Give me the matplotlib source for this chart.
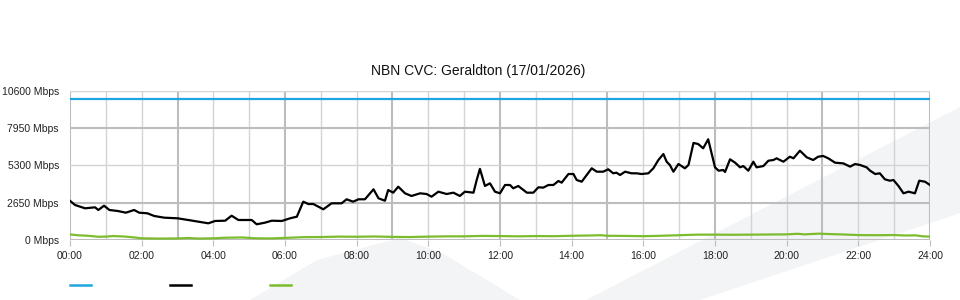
import matplotlib
matplotlib.use("Agg")
import matplotlib.pyplot as plt
from matplotlib.lines import Line2D
from matplotlib.patches import Polygon
import numpy as np

plt.rcParams['font.family'] = ['Liberation Sans', 'DejaVu Sans']

title = "NBN CVC: Geraldton (17/01/2026)"
y_ticks = [0, 2650, 5300, 7950, 10600]
y_tick_labels = ["0 Mbps", "2650 Mbps", "5300 Mbps", "7950 Mbps", "10600 Mbps"]
x_ticks = [0, 2, 4, 6, 8, 10, 12, 14, 16, 18, 20, 22, 24]
x_tick_labels = ["00:00", "02:00", "04:00", "06:00", "08:00", "10:00", "12:00",
                 "14:00", "16:00", "18:00", "20:00", "22:00", "24:00"]

capacity_hours = [0, 24]
capacity_mbps = [10000, 10000]

usage_hours = [0.00, 0.14, 0.42, 0.70, 0.79, 0.95, 1.10, 1.33, 1.56, 1.79, 1.93, 2.16,
               2.35, 2.63, 3.00, 3.30, 3.58, 3.86, 4.05, 4.33, 4.51, 4.70, 5.07, 5.21,
               5.44, 5.63, 5.91, 6.14, 6.33, 6.51, 6.65, 6.79, 6.93, 7.07, 7.30, 7.58,
               7.72, 7.90, 8.05, 8.23, 8.47, 8.61, 8.79, 8.88, 9.02, 9.16, 9.35, 9.53,
               9.77, 9.95, 10.09, 10.28, 10.51, 10.70, 10.88, 11.02, 11.26, 11.35, 11.44,
               11.58, 11.72, 11.86, 12.00, 12.14, 12.28, 12.37, 12.51, 12.75, 12.93, 13.07,
               13.21, 13.35, 13.49, 13.63, 13.72, 13.91, 14.05, 14.14, 14.28, 14.56, 14.70,
               14.88, 15.02, 15.16, 15.25, 15.35, 15.49, 15.67, 15.81, 15.95, 16.14, 16.28,
               16.42, 16.56, 16.65, 16.74, 16.84, 16.98, 17.16, 17.26, 17.40, 17.53, 17.67,
               17.81, 18.00, 18.10, 18.23, 18.28, 18.42, 18.56, 18.70, 18.79, 18.93, 19.07,
               19.16, 19.35, 19.49, 19.63, 19.72, 19.81, 19.91, 20.09, 20.19, 20.37, 20.56,
               20.74, 20.88, 21.02, 21.16, 21.35, 21.58, 21.77, 21.91, 22.05, 22.23, 22.33,
               22.47, 22.60, 22.74, 22.88, 22.98, 23.12, 23.26, 23.40, 23.58, 23.70, 23.86,
               24.00]
usage_mbps = [2780, 2485, 2250, 2320, 2130, 2435, 2130, 2060, 1940, 2130, 1940, 1895,
              1705, 1585, 1540, 1420, 1300, 1185, 1350, 1370, 1725, 1420, 1420, 1115,
              1230, 1370, 1350, 1540, 1655, 2720, 2555, 2555, 2365, 2180, 2605, 2605,
              2890, 2720, 2890, 2890, 3600, 2960, 2790, 3550, 3360, 3785, 3315, 3125,
              3315, 3265, 3075, 3430, 3265, 3360, 3125, 3430, 3360, 4260, 5050,
              3835, 4025, 3430, 3315, 3905, 3905, 3670, 3835, 3360, 3360, 3740,
              3720, 3905, 3905, 4190, 4070, 4685, 4685, 4260, 4140, 5090, 4850,
              4850, 5020, 4735, 4780, 4615, 4850, 4735, 4735, 4685, 4735, 5090,
              5680, 6105, 5560, 5325, 4850, 5395, 5090, 5325, 6890, 6815, 6510,
              7150, 5160, 4920, 4970, 4830, 5730, 5490, 5160, 5250, 4920, 5560,
              5160, 5250, 5630, 5680, 5800, 5680, 5560, 5915, 5800, 6340, 5870,
              5680, 5915, 5965, 5800, 5490, 5440, 5210, 5395, 5325, 5160, 4920,
              4685, 4735, 4310, 4210, 4260, 3835, 3315, 3430, 3315, 4210, 4140,
              3905]

upload_hours = [0.0, 0.2, 0.5, 0.8, 1.0, 1.2, 1.5, 1.8, 2.0, 2.5, 3.0, 3.3, 3.6, 4.0,
                4.3, 4.8, 5.2, 5.6, 6.0, 6.5, 7.0, 7.5, 8.0, 8.5, 9.0, 9.5, 10.0, 10.5,
                11.0, 11.5, 12.0, 12.5, 13.0, 13.5, 14.0, 14.5, 14.8, 15.0, 15.5, 16.0,
                16.5, 17.0, 17.5, 18.0, 18.5, 19.0, 19.5, 20.0, 20.3, 20.5, 20.9, 21.2,
                21.5, 22.0, 22.5, 23.0, 23.3, 23.6, 23.8, 24.0]
upload_mbps = [400, 340, 300, 230, 240, 280, 250, 180, 120, 100, 110, 140, 100, 120,
               160, 180, 120, 110, 150, 200, 210, 240, 230, 250, 220, 210, 240, 260,
               260, 290, 280, 260, 280, 270, 300, 320, 340, 300, 290, 270,
               300, 340, 380, 380, 370, 380, 390, 400, 440, 400, 450, 420,
               400, 350, 340, 350, 320, 330, 260, 240]

W, H = 960, 300
fig = plt.figure(figsize=(W / 100, H / 100), dpi=100)


def px(pts):
    return [(x / W, 1 - y / H) for x, y in pts]


# faint background watermark shapes
for shape in [
    [(250, 300), (317, 260), (400, 238), (440, 252), (520, 300)],
    [(586, 300), (960, 107), (960, 213), (700, 300)],
]:
    fig.patches.append(Polygon(px(shape), closed=True, transform=fig.transFigure,
                               facecolor="#f3f4f6", edgecolor="none", zorder=0))

ax = fig.add_axes([70 / W, 60 / H, 860 / W, 149.3 / H])
ax.set_zorder(2)
ax.set_facecolor("none")
ax.set_xlim(0, 24)
ax.set_ylim(0, 10600)

for s in ax.spines.values():
    s.set_visible(False)

for h in range(0, 25):
    dark = (h % 3 == 0)
    ax.axvline(h, color="#bdbdbd" if dark else "#d4d4d4", lw=1.5 if dark else 1.0, zorder=1)
for yv in y_ticks:
    dark = yv in (2650, 7950, 0)
    ax.axhline(yv, color="#bdbdbd" if dark else "#d4d4d4", lw=1.5 if dark else 1.0, zorder=1)

ax.plot(capacity_hours, capacity_mbps, color="#1fa6e0", lw=1.6, zorder=3)
ax.plot(usage_hours, usage_mbps, color="#000000", lw=1.6, zorder=4)
ax.plot(upload_hours, upload_mbps, color="#7dbb2f", lw=1.6, zorder=3)

ax.set_xticks(x_ticks)
ax.set_xticklabels(x_tick_labels, fontsize=7.5, color="#222222")
ax.set_yticks(y_ticks)
ax.set_yticklabels(y_tick_labels, fontsize=7.5, color="#222222")
ax.tick_params(axis="x", length=4, color="#bdbdbd", pad=4)
ax.tick_params(axis="y", length=0, pad=8)

fig.text(478 / W, 1 - 71 / H, title, ha="center", va="center", fontsize=10, color="#111111")

for x0, c in [(70, "#1fa6e0"), (170, "#000000"), (270, "#7dbb2f")]:
    fig.add_artist(Line2D([x0 / W, (x0 + 21) / W], [1 - 285 / H, 1 - 285 / H],
                          color=c, lw=1.8, transform=fig.transFigure))

fig.savefig("out.png", dpi=100)
